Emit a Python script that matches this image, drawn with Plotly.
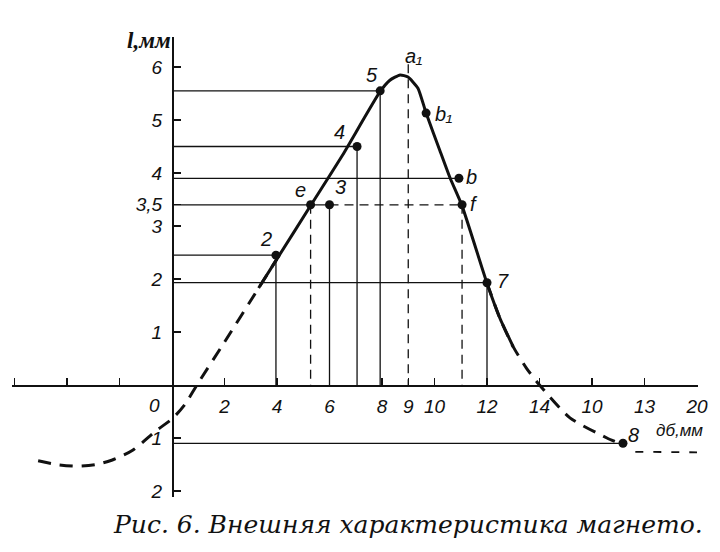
import plotly.graph_objects as go

# ---------------- data ----------------
# characteristic curve: dashed left part, solid middle part, dashed right part
dash_left_x = [-5.1, -4.4, -3.6, -2.9, -2.3, -1.5, -0.6, 0.0, 0.5, 0.95, 2.0, 3.3, 4.0]
dash_left_y = [-1.43, -1.5, -1.53, -1.5, -1.42, -1.23, -0.86, -0.64, -0.36, 0.0, 0.81, 1.83, 2.38]

solid_x = [3.3, 4.0, 5.3, 6.5, 7.92, 8.3, 8.69, 8.99, 9.37, 9.68, 10.2, 10.59, 11.05, 12.0, 12.5, 13.0]
solid_y = [1.83, 2.38, 3.4, 4.34, 5.53, 5.75, 5.85, 5.81, 5.6, 5.13, 4.43, 3.91, 3.38, 1.92, 1.25, 0.72]

dash_right_x = [12.0, 12.5, 13.0, 13.5, 14.0, 15.16, 16.57, 17.18]
dash_right_y = [1.92, 1.25, 0.72, 0.32, 0.0, -0.62, -1.0, -1.13]

# thin dashed continuation beyond point 8
tail_x = [17.65, 20.0]
tail_y = [-1.26, -1.27]

# marked points
pt_names = ["2", "e", "3", "4", "5", "b₁", "b", "f", "7", "8"]
pt_x = [3.96, 5.28, 6.0, 7.05, 7.93, 9.68, 10.93, 11.05, 12.0, 17.18]
pt_y = [2.45, 3.4, 3.4, 4.5, 5.55, 5.13, 3.9, 3.4, 1.93, -1.1]

# peak a1
peak_name = "a₁"
peak_x = 9.0
peak_y = 5.85
peak_line_top = 6.05

# projection lines (by point name)
h_solid = ["5", "4", "b", "3", "2", "7", "8"]   # horizontal from l-axis to point
v_solid = ["2", "3", "4", "5", "7"]             # vertical from point to δ-axis
v_dashed = ["e", "f"]
h_dashed = [("3", "f")]

# axis ticks
x_tick_vals = [-6, -4, -2, 2, 4, 6, 8, 9, 10, 12, 14, 16, 18, 20]
x_tick_text = ["", "", "", "2", "4", "6", "8", "9", "10", "12", "14", "10", "13", "20"]
y_tick_vals = [-2, -1, 1, 2, 3, 3.4, 4, 5, 6]
y_tick_text = ["2", "1", "1", "2", "3", "3,5", "4", "5", "6"]

x_title = "дб,мм"
y_title = "l,мм"
caption = "Рис. 6. Внешняя характеристика магнето."

# ---------------- figure ----------------
P = dict(zip(pt_names, zip(pt_x, pt_y)))
INK = "#111111"

fig = go.Figure()

# solid projection lines
sx, sy = [], []
for n in h_solid:
    x, y = P[n]
    sx += [0, x, None]
    sy += [y, y, None]
for n in v_solid:
    x, y = P[n]
    sx += [x, x, None]
    sy += [y, 0, None]
fig.add_trace(go.Scatter(x=sx, y=sy, mode="lines",
                         line=dict(color=INK, width=1.3), hoverinfo="skip"))

# dashed projection lines
dx, dy = [], []
for n in v_dashed:
    x, y = P[n]
    dx += [x, x, None]
    dy += [y, 0, None]
for a, b in h_dashed:
    dx += [P[a][0], P[b][0], None]
    dy += [P[a][1], P[b][1], None]
dx += [peak_x, peak_x, None]
dy += [peak_line_top, 0, None]
fig.add_trace(go.Scatter(x=dx, y=dy, mode="lines",
                         line=dict(color=INK, width=1.3, dash="9px,6px"), hoverinfo="skip"))

# curve (dashed parts overlap the solid part slightly so the joins stay smooth)
fig.add_trace(go.Scatter(x=dash_left_x, y=dash_left_y, mode="lines",
                         line=dict(color=INK, width=3, dash="13px,9px", shape="spline", smoothing=0.8),
                         hoverinfo="skip"))
fig.add_trace(go.Scatter(x=dash_right_x, y=dash_right_y, mode="lines",
                         line=dict(color=INK, width=3, dash="13px,9px", shape="spline", smoothing=0.6),
                         hoverinfo="skip"))
fig.add_trace(go.Scatter(x=solid_x, y=solid_y, mode="lines",
                         line=dict(color=INK, width=3, shape="spline", smoothing=0.5),
                         hoverinfo="skip"))
fig.add_trace(go.Scatter(x=tail_x, y=tail_y, mode="lines",
                         line=dict(color=INK, width=1.8, dash="8px,10px"), hoverinfo="skip"))

# dots
fig.add_trace(go.Scatter(x=pt_x, y=pt_y, mode="markers",
                         marker=dict(color=INK, size=9), hoverinfo="skip"))

# point labels (pixel offsets)
label_shift = {"2": (-10, 16), "e": (-10, 15), "3": (11, 18), "4": (-18, 14),
               "5": (-8, 16), "b₁": (17, -1), "b": (13, 1), "f": (12, 1),
               "7": (16, 2), "8": (11, 8)}
lab_font = dict(family="Liberation Sans Narrow, Liberation Sans, sans-serif",
                size=20, color=INK, style="italic")
for n in pt_names:
    x, y = P[n]
    xs, ys = label_shift[n]
    fig.add_annotation(x=x, y=y, text=n, showarrow=False, xshift=xs, yshift=ys, font=lab_font)
fig.add_annotation(x=peak_x, y=peak_y, text=peak_name, showarrow=False, xshift=5, yshift=19,
                   font=lab_font)

tick_font = dict(family="Liberation Sans Narrow, Liberation Sans, sans-serif",
                 size=19, color=INK, style="italic")

# origin label and axis titles
fig.add_annotation(x=0, y=0, text="0", showarrow=False, xshift=-18, yshift=-20, font=tick_font)
fig.add_annotation(x=0, y=6.5, text=y_title, showarrow=False, xshift=-23,
                   font=dict(family="Liberation Serif, serif",
                             size=23, color=INK, style="italic", weight="bold"))
fig.add_annotation(x=19.35, y=-0.85, text=x_title, showarrow=False,
                   font=dict(family="Liberation Sans Narrow, Liberation Sans, sans-serif",
                             size=17, color=INK, style="italic"))

W, H = 720, 552
X0PX, XSCALE = 172, 26.25
Y0PX, YSCALE = 385, 53.0

# caption (paper coords span the whole page because margins are zero)
fig.add_annotation(xref="paper", yref="paper", x=408 / W, y=(H - 524) / H, yanchor="middle",
                   text=caption, showarrow=False,
                   font=dict(family="DejaVu Serif, serif", size=25, color=INK, style="italic"))

fig.update_layout(
    template="none",
    width=W, height=H, margin=dict(l=0, r=0, t=0, b=0, autoexpand=False),
    paper_bgcolor="white", plot_bgcolor="white", showlegend=False,
    xaxis=dict(domain=[12 / W, 697.5 / W],
               range=[(12 - X0PX) / XSCALE, (697.5 - X0PX) / XSCALE],
               anchor="free", position=(H - Y0PX) / H, automargin=False,
               showline=True, linecolor=INK, linewidth=1.5,
               ticks="inside", ticklen=7, tickwidth=1.3, tickcolor=INK,
               tickvals=x_tick_vals, ticktext=x_tick_text, tickfont=tick_font,
               ticklabelstandoff=4,
               showgrid=False, zeroline=False),
    yaxis=dict(domain=[(H - 497) / H, (H - 37) / H],
               range=[(Y0PX - 497) / YSCALE, (Y0PX - 37) / YSCALE],
               anchor="free", position=X0PX / W, automargin=False,
               showline=True, linecolor=INK, linewidth=1.5,
               ticks="inside", ticklen=7, tickwidth=1.3, tickcolor=INK,
               tickvals=y_tick_vals, ticktext=y_tick_text, tickfont=tick_font,
               ticklabelstandoff=6,
               showgrid=False, zeroline=False),
)

fig.write_html("out.html", config={"displayModeBar": False, "staticPlot": True},
               post_script="document.body.style.margin='0';document.body.style.overflow='hidden';")
